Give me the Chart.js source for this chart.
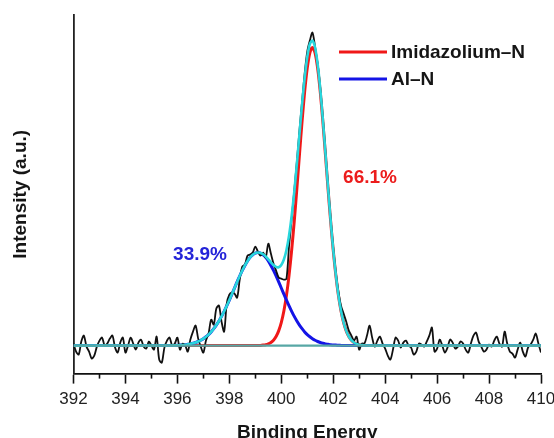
<!DOCTYPE html>
<html>
<head>
<meta charset="utf-8">
<script src="https://cdn.jsdelivr.net/npm/chart.js@4/dist/chart.umd.min.js"></script>
<style>
  html, body { margin: 0; padding: 0; background: #fff; }
  #wrap { width: 554px; height: 438px; }
</style>
</head>
<body>
<div id="wrap"><canvas id="c" width="554" height="438"></canvas></div>
<script>
// ---- Data ----
const xTicks = [392, 394, 396, 398, 400, 402, 404, 406, 408, 410];
const minorTicks = [393, 395, 397, 399, 401, 403, 405, 407, 409];
const legendLabels = ['Imidazolium\u2013N', 'Al\u2013N'];
const areaLabels = ['66.1%', '33.9%'];

// Raw spectrum, 392.0 to 410.0 eV in 0.1 eV steps
const rawStart = 392.0;
const rawStep = 0.1;
const rawIntensity = [
  30,22,19,32,38,27,22,15,18,27,
  33,36,28,30,35,38,26,21,31,36,
  21,28,36,30,24,31,34,27,25,32,
  28,24,37,14,11,26,33,36,28,30,
  36,24,30,28,22,34,42,48,35,27,
  21,33,40,54,49,65,68,52,42,70,
  79,81,80,76,94,107,109,118,119,121,
  127,122,118,121,116,130,120,110,103,96,
  95,94,95,128,155,183,212,243,272,300,
  322,333,341,327,310,286,256,222,188,155,
  126,101,82,68,60,52,43,38,33,37,
  24,30,30,38,48,36,27,33,37,30,
  25,18,14,24,36,33,26,31,33,28,
  26,19,22,30,29,27,32,38,46,22,
  25,34,28,21,26,34,31,25,27,32,
  30,24,21,30,38,41,32,27,22,24,
  29,27,33,37,30,27,42,30,22,20,
  16,24,31,22,17,26,29,34,40,30,
  21
];

// Fitted components
const fitEnergy = [392,
  395.8,395.9,
  396.0,396.1,396.2,396.3,396.4,396.5,396.6,396.7,396.8,396.9,
  397.0,397.1,397.2,397.3,397.4,397.5,397.6,397.7,397.8,397.9,
  398.0,398.1,398.2,398.3,398.4,398.5,398.6,398.7,398.8,398.9,
  399.0,399.1,399.2,399.3,399.4,399.5,399.6,399.7,399.8,399.9,
  400.0,400.1,400.2,400.3,400.4,400.5,400.6,400.7,400.8,400.9,
  401.0,401.1,401.2,401.3,401.4,401.5,401.6,401.7,401.8,401.9,
  402.0,402.1,402.2,402.3,402.4,402.5,402.6,402.7,402.8,402.9,
  403.0,403.1,403.2,403.3,403.4,
  410];
const imidazoliumN = [28,
  28,28,
  28,28,28,28,28,28,28,28,28,28,
  28,28,28,28,28,28,28,28,28,28,
  28,28,28,28,28,28,28,28,28,28,
  28.0,28.1,28.2,28.5,28.9,29.7,31.1,33.4,37.1,42.7,
  51.0,62.6,78.2,98.5,123.4,152.6,185.0,219.0,252.2,281.9,
  305.5,320.8,326.0,320.8,305.5,281.9,252.2,219.0,185.0,152.6,
  123.4,98.5,78.2,62.6,51.0,42.7,37.1,33.4,31.1,29.7,
  28.9,28.5,28.2,28.1,28.0,
  28];
const alN = [28,
  28.1,28.2,
  28.3,28.5,28.6,28.9,29.3,29.7,30.3,31.1,32.1,33.3,
  34.9,36.8,39.0,41.7,44.9,48.5,52.6,57.2,62.3,67.7,
  73.5,79.5,85.6,91.7,97.6,103.2,108.2,112.6,116.2,118.8,
  120.5,121.0,120.5,118.8,116.2,112.6,108.2,103.2,97.6,91.7,
  85.6,79.5,73.5,67.7,62.3,57.2,52.6,48.5,44.9,41.7,
  39.0,36.8,34.9,33.3,32.1,31.1,30.3,29.7,29.3,28.9,
  28.6,28.5,28.3,28.2,28.1,28.0,28.0,28.0,28.0,28.0,
  28,28,28,28,28,
  28];
const envelope = [28,
  28.1,28.2,
  28.3,28.5,28.6,28.9,29.3,29.7,30.3,31.1,32.1,33.3,
  34.9,36.8,39.0,41.7,44.9,48.5,52.6,57.2,62.3,67.7,
  73.5,79.5,85.6,91.7,97.6,103.2,108.2,112.6,116.2,118.8,
  120.5,121.1,120.7,119.3,117.1,114.3,111.3,108.6,106.7,106.4,
  108.6,114.1,123.7,138.2,157.7,181.8,209.6,239.5,269.1,295.6,
  316.5,329.6,332.9,326.1,309.6,285.0,254.5,220.7,186.3,153.5,
  124.0,99.0,78.5,62.8,51.1,42.7,37.1,33.4,31.1,29.7,
  28.9,28.5,28.2,28.1,28.0,
  28];
const backgroundEnergy = [392, 410];
const backgroundLevel = [28, 28];

// ---- build point lists ----
const rawPts = rawIntensity.map((v, i) => ({ x: +(rawStart + i * rawStep).toFixed(1), y: v }));
const pts = arr => arr.map((v, i) => ({ x: fitEnergy[i], y: v }));
const bgPts = backgroundLevel.map((v, i) => ({ x: backgroundEnergy[i], y: v }));

const FONT = "'Liberation Sans', Arial, Helvetica, sans-serif";

const overlay = {
  id: 'overlay',
  afterDraw(chart) {
    const ctx = chart.ctx;
    const xs = chart.scales.x;
    ctx.save();
    // minor ticks
    ctx.strokeStyle = '#111';
    ctx.lineWidth = 1.6;
    minorTicks.forEach(v => {
      const px = Math.round(xs.getPixelForValue(v)) + 0.5;
      ctx.beginPath();
      ctx.moveTo(px, xs.top);
      ctx.lineTo(px, xs.top + 5);
      ctx.stroke();
    });
    // legend
    const legendColors = ['#f01818', '#1414e6'];
    ctx.font = 'bold 19px ' + FONT;
    ctx.textBaseline = 'middle';
    ctx.textAlign = 'left';
    legendLabels.forEach((t, i) => {
      const y = 52 + i * 27;
      ctx.strokeStyle = legendColors[i];
      ctx.lineWidth = 3;
      ctx.beginPath();
      ctx.moveTo(339, y);
      ctx.lineTo(387, y);
      ctx.stroke();
      ctx.fillStyle = '#151515';
      ctx.fillText(t, 391, y + 1);
    });
    // area percentages
    ctx.textAlign = 'center';
    ctx.fillStyle = '#ec1c1c';
    ctx.fillText(areaLabels[0], 370, 178);
    ctx.fillStyle = '#2424d8';
    ctx.fillText(areaLabels[1], 200, 255);
    ctx.restore();
  }
};

new Chart(document.getElementById('c'), {
  type: 'line',
  data: {
    datasets: [
      { label: 'background', data: bgPts, borderColor: '#57a7a5', borderWidth: 2.2, pointRadius: 0, order: 1 },
      { label: 'envelope', data: pts(envelope), borderColor: '#28d6dc', borderWidth: 2.6, pointRadius: 0, tension: 0.3, order: 2 },
      { label: 'raw', data: rawPts, borderColor: '#111111', borderWidth: 1.8, pointRadius: 0, tension: 0.3, order: 3 },
      { label: legendLabels[1], data: pts(alN), borderColor: '#1414e6', borderWidth: 3, pointRadius: 0, tension: 0.3, order: 4 },
      { label: legendLabels[0], data: pts(imidazoliumN), borderColor: '#f01818', borderWidth: 3, pointRadius: 0, tension: 0.3, order: 5 }
    ]
  },
  options: {
    responsive: false,
    animation: false,
    layout: { padding: { top: 15, right: 13, left: 0, bottom: 0 } },
    plugins: { legend: { display: false }, tooltip: { enabled: false } },
    scales: {
      x: {
        type: 'linear',
        min: 392, max: 410,
        afterBuildTicks: s => { s.ticks = xTicks.map(v => ({ value: v })); },
        ticks: { font: { family: FONT, size: 17 }, color: '#222', padding: 6, maxRotation: 0, autoSkip: false },
        grid: { drawOnChartArea: false, tickLength: 10, tickColor: '#111', tickWidth: 1.6 },
        border: { color: '#111', width: 1.8 },
        title: { display: true, text: 'Binding Energy', color: '#151515',
                 font: { family: FONT, size: 19, weight: 'bold', lineHeight: 0.5 }, padding: { top: 0, bottom: 0 } },
        afterFit: s => { s.height = 64.4; s.paddingLeft = 0; s.paddingRight = 0; }
      },
      y: {
        min: 0, max: 358.6,
        ticks: { display: false },
        grid: { display: false, drawTicks: false },
        border: { color: '#222', width: 1.8 },
        title: { display: true, text: 'Intensity (a.u.)', color: '#151515',
                 font: { family: FONT, size: 19, weight: 'bold' }, padding: { top: 9, bottom: 4 } },
        afterFit: s => { s.width = 73.5; }
      }
    }
  },
  plugins: [overlay]
});
</script>
</body>
</html>
